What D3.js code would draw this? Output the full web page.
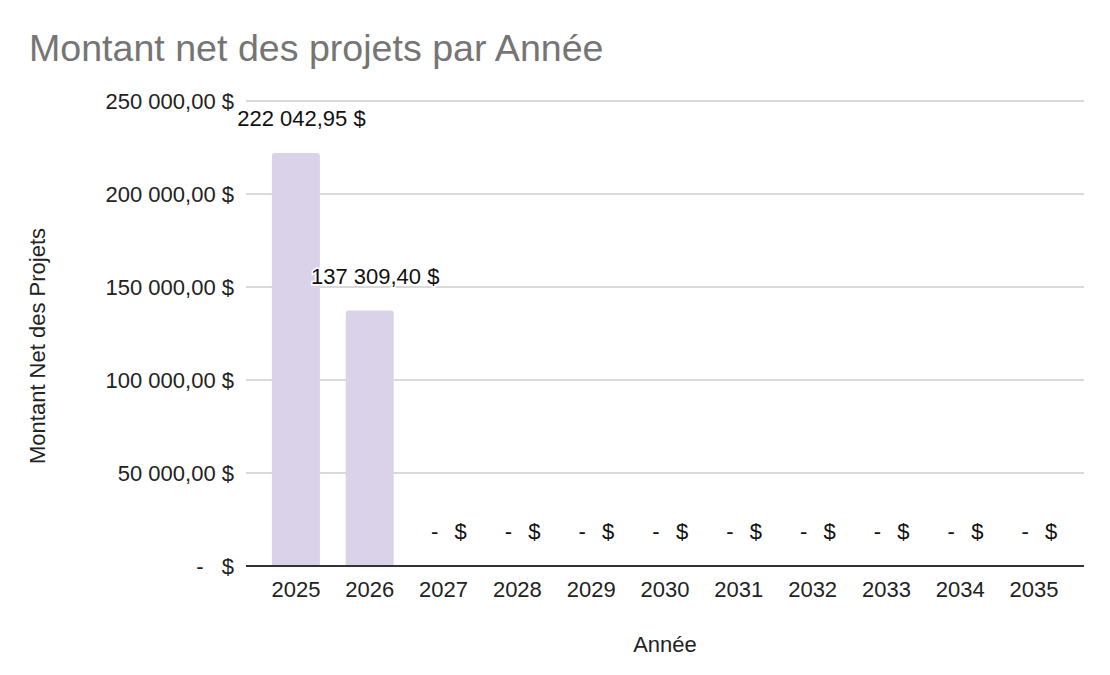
<!DOCTYPE html>
<html><head><meta charset="utf-8">
<script src="https://cdn.jsdelivr.net/npm/d3@7"></script>
<style>body{margin:0;background:#fff}svg{display:block}</style>
</head><body>
<svg id="c" width="1110" height="675"></svg>
<script>
const categories = ["2025","2026","2027","2028","2029","2030","2031","2032","2033","2034","2035"];
const values = [222042.95, 137309.40, 0, 0, 0, 0, 0, 0, 0, 0, 0];
const yTicks = [0, 50000, 100000, 150000, 200000, 250000];
const chartTitle = "Montant net des projets par Année";
const yTitle = "Montant Net des Projets";
const xTitle = "Année";

(function(){
const svg = d3.select("#c");
const gridL = 246, gridR = 1084, plotTop = 101, plotBottom = 566;
const font = "Arial, 'Liberation Sans', sans-serif";
const fs = 22;

const x = d3.scaleBand().domain(categories).range([259, 1071]).paddingInner(0.35).paddingOuter(0.175);
const y = d3.scaleLinear().domain([0, 250000]).range([plotBottom, plotTop]);

function fmt(v){
  const s = d3.format(",.2f")(v).replace(/,/g, " ").replace(".", ",");
  return s + " $";
}

svg.append("text").attr("x", 29).attr("y", 61)
  .attr("font-family", font).attr("font-size", 37.6)
  .attr("fill", "#757575").text(chartTitle);

// grid
svg.append("g").selectAll("line").data(yTicks.filter(d => d > 0)).join("line")
  .attr("x1", gridL).attr("x2", gridR).attr("y1", d => y(d)).attr("y2", d => y(d))
  .attr("stroke", "#cccccc").attr("stroke-width", 1.5);

// y labels
const yAxis = d3.axisLeft(y).tickValues(yTicks).tickSize(0).tickPadding(0).tickFormat(d => d === 0 ? "" : fmt(d));
const ga = svg.append("g").attr("transform", `translate(234,0)`).call(yAxis);
ga.select(".domain").remove();
ga.selectAll("text").attr("font-family", font).attr("font-size", fs).attr("fill", "#222").attr("dy", "0.35em");
svg.append("text").attr("x", 200).attr("y", y(0)).attr("dy", "0.35em").attr("text-anchor", "middle")
  .attr("font-family", font).attr("font-size", fs).attr("fill", "#222").text("-");
svg.append("text").attr("x", 234).attr("y", y(0)).attr("dy", "0.35em").attr("text-anchor", "end")
  .attr("font-family", font).attr("font-size", fs).attr("fill", "#222").text("$");

// bars
const r = 3;
svg.append("g").selectAll("path").data(values.map((v,i)=>({v, c: categories[i]})).filter(d => d.v > 0)).join("path")
  .attr("fill", "#d9d2e9")
  .attr("d", d => {
    const x0 = x(d.c), w = x.bandwidth(), y0 = y(d.v), y1 = y(0);
    return `M${x0},${y1}V${y0 + r}Q${x0},${y0} ${x0 + r},${y0}H${x0 + w - r}Q${x0 + w},${y0} ${x0 + w},${y0 + r}V${y1}Z`;
  });

// baseline
svg.append("line").attr("x1", gridL).attr("x2", gridR).attr("y1", y(0)).attr("y2", y(0))
  .attr("stroke", "#333").attr("stroke-width", 2);

// x axis labels
const xAxis = d3.axisBottom(x).tickSize(0).tickPadding(0);
const gx = svg.append("g").attr("transform", `translate(0,${plotBottom})`).call(xAxis);
gx.select(".domain").remove();
gx.selectAll("text").attr("font-family", font).attr("font-size", fs).attr("fill", "#222").attr("dy", null).attr("y", 31);

// data labels
const lg = svg.append("g");
values.forEach((v, i) => {
  const cx = x(categories[i]) + x.bandwidth() / 2;
  const yy = y(v) - 27;
  if (v === 0) {
    lg.append("text").attr("x", cx - 9).attr("y", yy).attr("text-anchor", "middle")
      .attr("font-family", font).attr("font-size", fs).attr("fill", "#111").text("-");
    lg.append("text").attr("x", cx + 17).attr("y", yy).attr("text-anchor", "middle")
      .attr("font-family", font).attr("font-size", fs).attr("fill", "#111").text("$");
  } else {
    lg.append("text").attr("x", cx + 5.5).attr("y", yy).attr("text-anchor", "middle")
      .attr("font-family", font).attr("font-size", fs).attr("fill", "#111")
      .attr("stroke", "#fff").attr("stroke-width", 3).attr("paint-order", "stroke")
      .text(fmt(v));
  }
});

// axis titles
svg.append("text").attr("transform", `translate(45,346) rotate(-90)`).attr("text-anchor", "middle")
  .attr("font-family", font).attr("font-size", fs).attr("fill", "#222").text(yTitle);
svg.append("text").attr("x", 665).attr("y", 652).attr("text-anchor", "middle")
  .attr("font-family", font).attr("font-size", fs).attr("fill", "#222").text(xTitle);
})();
</script>
</body></html>
